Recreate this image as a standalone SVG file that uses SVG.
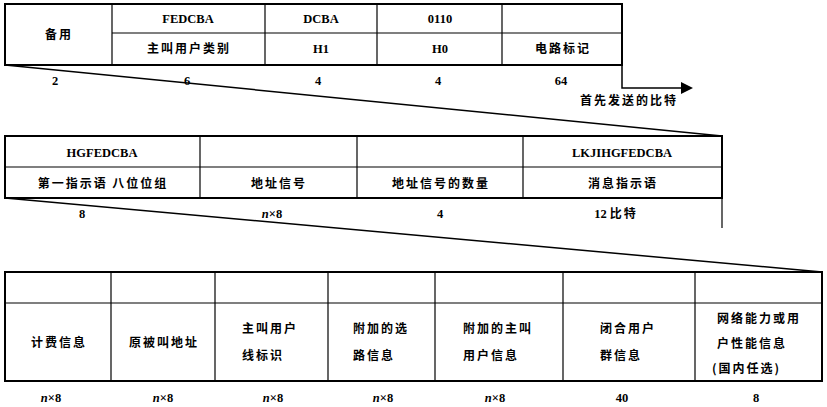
<svg xmlns="http://www.w3.org/2000/svg" width="827" height="407" viewBox="0 0 827 407">
<style>
.bg{fill:#fff}
.outer{fill:none;stroke:#000;stroke-width:2}
.inner{fill:none;stroke:#000;stroke-width:1.2}
.ln{fill:none;stroke:#000;stroke-width:1.5}
.cn{font-family:"Noto Sans CJK SC","Noto Sans",sans-serif;font-size:12px;font-weight:bold;letter-spacing:2px;fill:#000}
.la{font-family:"Liberation Serif","Times New Roman",serif;font-size:12.5px;font-weight:bold;fill:#000}
.c{text-anchor:middle}
</style>
<rect class="bg" x="0" y="0" width="827" height="407"/>

<g id="connectors">
  <line class="ln" x1="5" y1="65" x2="722" y2="136"/>
  <line class="ln" x1="5" y1="198" x2="822" y2="272"/>
  <path class="ln" d="M622,65 V88 H681"/>
  <polygon points="681,82 693,88 681,94" fill="#000"/>
  <line class="inner" x1="722" y1="198" x2="722" y2="228"/>
</g>

<g id="table1">
  <rect class="outer" x="5" y="4" width="617" height="61"/>
  <line class="inner" x1="112" y1="33" x2="622" y2="33"/>
  <line class="inner" x1="112" y1="4" x2="112" y2="65"/>
  <line class="inner" x1="265" y1="4" x2="265" y2="65"/>
  <line class="inner" x1="377" y1="4" x2="377" y2="65"/>
  <line class="inner" x1="502" y1="4" x2="502" y2="65"/>
  <g id="t1-spare"><text class="cn c" x="59" y="39">备用</text></g>
  <g id="t1-cat"><text class="la c" x="188" y="23">FEDCBA</text><text class="cn c" x="189" y="53">主叫用户类别</text></g>
  <g id="t1-h1"><text class="la c" x="321" y="23">DCBA</text><text class="la c" x="321" y="53">H1</text></g>
  <g id="t1-h0"><text class="la c" x="440" y="23">0110</text><text class="la c" x="440" y="53">H0</text></g>
  <g id="t1-cic"><text class="cn c" x="563" y="53">电路标记</text></g>
  <g id="t1-bits">
    <text class="la c" x="55" y="85">2</text>
    <text class="la c" x="187" y="85">6</text>
    <text class="la c" x="318" y="85">4</text>
    <text class="la c" x="438" y="85">4</text>
    <text class="la c" x="561" y="85">64</text>
  </g>
  <g id="first-bit"><text class="cn c" x="629" y="105">首先发送的比特</text></g>
</g>

<g id="table2">
  <rect class="outer" x="5" y="136" width="717" height="62"/>
  <line class="inner" x1="5" y1="167" x2="722" y2="167"/>
  <line class="inner" x1="200" y1="136" x2="200" y2="198"/>
  <line class="inner" x1="357" y1="136" x2="357" y2="198"/>
  <line class="inner" x1="523" y1="136" x2="523" y2="198"/>
  <g id="t2-first"><text class="la c" x="102" y="157">HGFEDCBA</text><text class="cn c" x="103" y="188">第一指示语 八位位组</text></g>
  <g id="t2-addr"><text class="cn c" x="279" y="188">地址信号</text></g>
  <g id="t2-num"><text class="cn c" x="441" y="188">地址信号的数量</text></g>
  <g id="t2-msg"><text class="la c" x="622" y="157">LKJIHGFEDCBA</text><text class="cn c" x="623" y="188">消息指示语</text></g>
  <g id="t2-bits">
    <text class="la c" x="82" y="218">8</text>
    <text class="la c" x="272" y="218"><tspan font-style="italic">n</tspan>×8</text>
    <text class="la c" x="440" y="218">4</text>
    <text class="la c" x="616" y="218">12 <tspan class="cn">比特</tspan></text>
  </g>
</g>

<g id="table3">
  <rect class="outer" x="5" y="272" width="817" height="109"/>
  <line class="inner" x1="5" y1="303" x2="822" y2="303"/>
  <line class="inner" x1="111" y1="272" x2="111" y2="381"/>
  <line class="inner" x1="215" y1="272" x2="215" y2="381"/>
  <line class="inner" x1="328" y1="272" x2="328" y2="381"/>
  <line class="inner" x1="435" y1="272" x2="435" y2="381"/>
  <line class="inner" x1="563" y1="272" x2="563" y2="381"/>
  <line class="inner" x1="695" y1="272" x2="695" y2="381"/>
  <g id="t3-charge"><text class="cn c" x="59" y="347">计费信息</text></g>
  <g id="t3-orig"><text class="cn c" x="164" y="347">原被叫地址</text></g>
  <g id="t3-cli"><text class="cn" x="242" y="333">主叫用户</text><text class="cn" x="242" y="360">线标识</text></g>
  <g id="t3-route"><text class="cn" x="353" y="333">附加的选</text><text class="cn" x="353" y="360">路信息</text></g>
  <g id="t3-addcli"><text class="cn" x="463" y="333">附加的主叫</text><text class="cn" x="463" y="360">用户信息</text></g>
  <g id="t3-cug"><text class="cn" x="600" y="333">闭合用户</text><text class="cn" x="600" y="360">群信息</text></g>
  <g id="t3-net"><text class="cn" x="717" y="323">网络能力或用</text><text class="cn" x="717" y="348">户性能信息</text><text class="cn" x="712" y="373">(国内任选)</text></g>
  <g id="t3-bits">
    <text class="la c" x="51" y="402"><tspan font-style="italic">n</tspan>×8</text>
    <text class="la c" x="163" y="402"><tspan font-style="italic">n</tspan>×8</text>
    <text class="la c" x="273" y="402"><tspan font-style="italic">n</tspan>×8</text>
    <text class="la c" x="383" y="402"><tspan font-style="italic">n</tspan>×8</text>
    <text class="la c" x="495" y="402"><tspan font-style="italic">n</tspan>×8</text>
    <text class="la c" x="622" y="402">40</text>
    <text class="la c" x="756" y="402">8</text>
  </g>
</g>
</svg>
